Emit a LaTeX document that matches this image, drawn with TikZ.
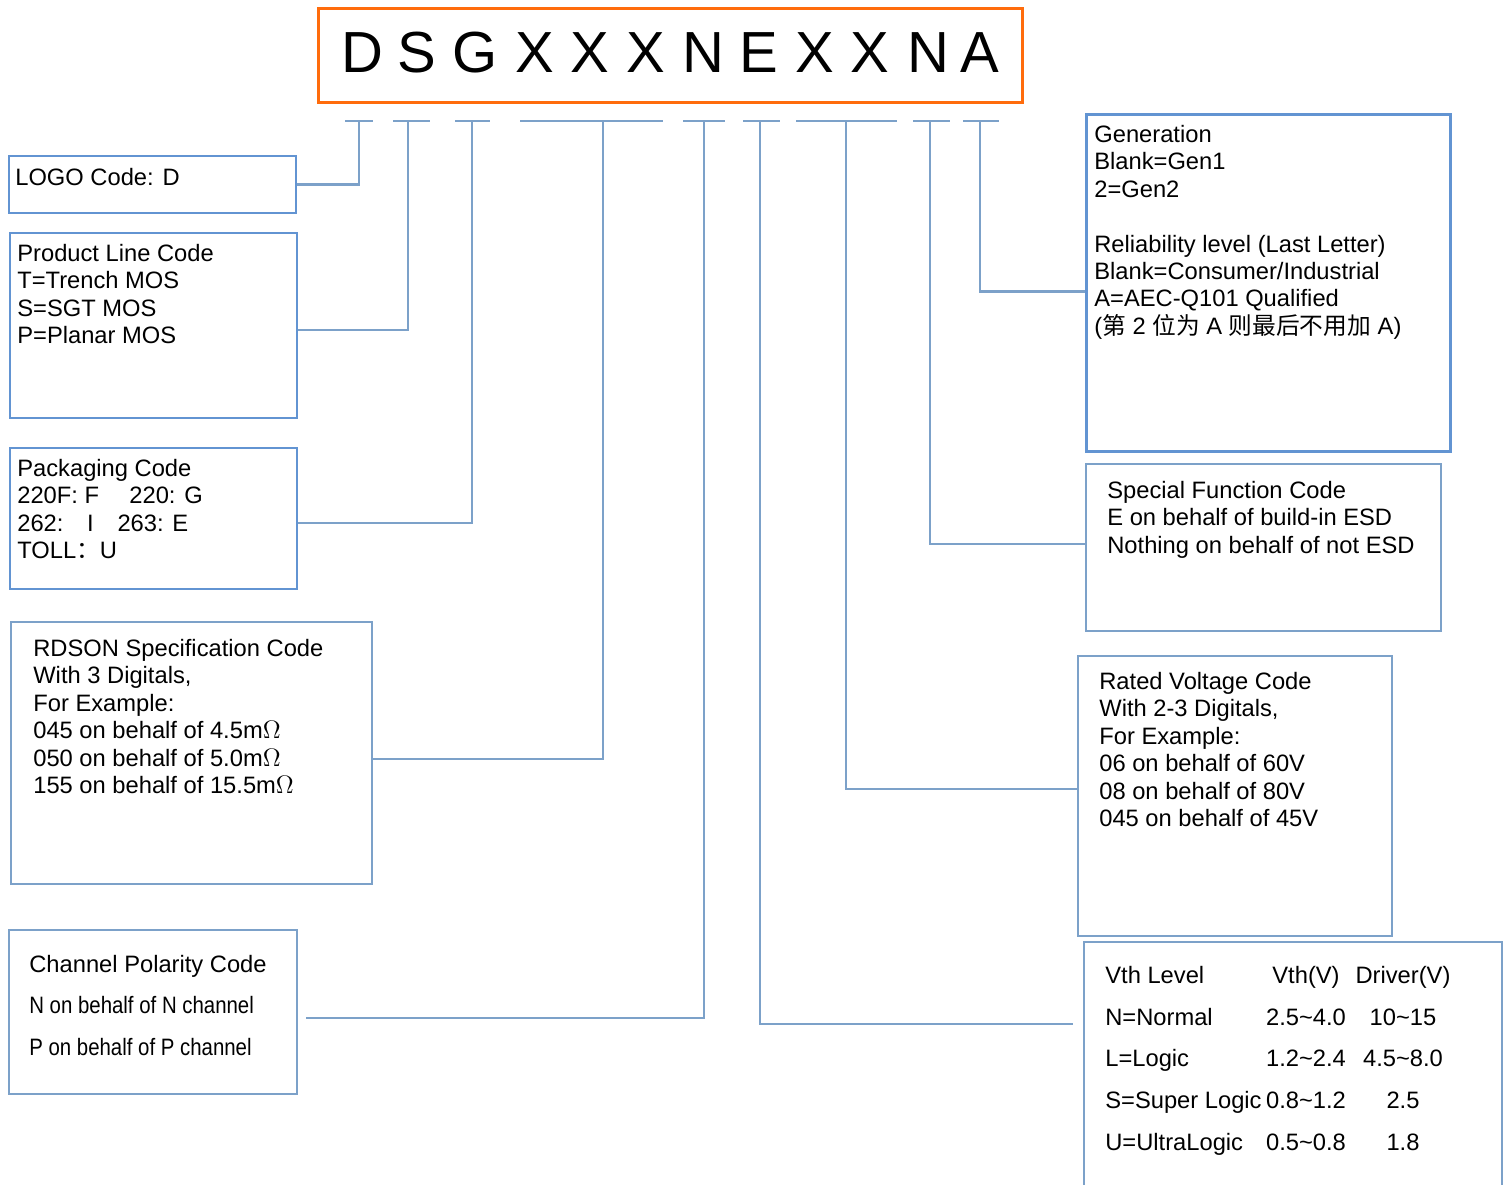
\documentclass[tikz,border=0pt]{standalone}
\usepackage{fontspec}
\setmainfont{Liberation Sans}
\newfontfamily\cjk{Noto Sans CJK SC}
\newcommand\tightline[1]{\scalebox{0.86}[1]{#1}}
\definecolor{codeOrange}{RGB}{255,108,12}
\definecolor{boxBlue}{RGB}{98,148,210}
\definecolor{greyBlue}{RGB}{124,161,201}
\begin{document}
\begin{tikzpicture}
[x=0.02cm, y=-0.02cm,
  titleBox/.style={draw=codeOrange, line width=1.7pt, anchor=north west,
    minimum width=14.08cm, minimum height=1.88cm},%
  codeBox/.style={anchor=north west, inner sep=0pt},%
  boxText/.style={anchor=north west, inner sep=0pt, align=left,
    font=\fontsize{13.5}{15.6}\selectfont},%
  cellText/.style={inner sep=0pt, font=\fontsize{13.5}{15.6}\selectfont},%
  letterNode/.style={inner sep=0pt, font=\fontsize{33}{40}\selectfont},%
  tickLine/.style={-,line width=1.5pt,color=greyBlue},%
  linkLine/.style={-,line width=1.3pt,color=greyBlue}]
\useasboundingbox (0,0) rectangle (1505,1185);
%% part number
\node (title) at (317,7) [titleBox] {};
\foreach \ltr/\x [count=\i] in {D/362, S/417, G/475, X/535, X/590, X/646,
  N/703, E/759, X/815, X/870, N/928, A/980}
{
  \node (l\i) at (\x,53) [letterNode] {\ltr};
}
%% ticks under the letters
\foreach \n/\l/\m/\r in {1/345/359/373, 2/393/408/430, 3/455/472/490,
  4/520/603/663, 5/683/704/725, 6/743/760/780, 7/796/846/897,
  8/913/930/950, 9/963/980/999}
{
  \coordinate (b\n) at (\m,121);
  \draw[tickLine] (\l,121) -- (\r,121);
}
%% code boxes
\foreach \boxname/\x/\y/\w/\h/\col/\lw in {logo/8/155/5.74/1.14/boxBlue/1.2,
  prod/9/232/5.74/3.70/boxBlue/1.2, pack/9/447/5.74/2.82/boxBlue/1.2,
  rdson/10/621/7.22/5.24/greyBlue/1.2, chan/8/929/5.76/3.28/greyBlue/1.2,
  gen/1085/113/7.28/6.74/boxBlue/1.7, spec/1085/463/7.10/3.34/greyBlue/1.2,
  volt/1077/655/6.28/5.60/greyBlue/1.2, vth/1083/941/8.36/6.00/greyBlue/1.2}
{
  \node (\boxname) at (\x,\y) [codeBox, draw=\col, line width=\lw pt,
    minimum width=\w cm, minimum height=\h cm] {};
}
%% box texts
\node (logoText) at (15,168) [boxText] {LOGO Code: D};
\node (prodText) at (17,244) [boxText] {Product Line Code\\T=Trench MOS\\S=SGT MOS\\P=Planar MOS};
\node (packText) at (17,459) [boxText] {Packaging Code\\220F: F\quad\ 220: G\\262:\quad I\quad 263: E\\TOLL{\cjk ：}U};
\node (rdsonText) at (33,639) [boxText] {RDSON Specification Code\\With 3 Digitals,\\For Example:\\045 on behalf of 4.5m$\Omega$\\050 on behalf of 5.0m$\Omega$\\155 on behalf of 15.5m$\Omega$};
\node (chanText) at (29,955) [boxText, font=\fontsize{13.5}{23.5}\selectfont] {Channel Polarity Code\\\tightline{N on behalf of N channel}\\\tightline{P on behalf of P channel}};
\node (genText) at (1094,125) [boxText] {Generation\\Blank=Gen1\\2=Gen2\\[15.6pt]Reliability level (Last Letter)\\Blank=Consumer/Industrial\\A=AEC-Q101 Qualified\\({\cjk 第} 2 {\cjk 位为} A {\cjk 则最后不用加} A)};
\node (specText) at (1107,481) [boxText] {Special Function Code\\E on behalf of build-in ESD\\Nothing on behalf of not ESD};
\node (voltText) at (1099,672) [boxText] {Rated Voltage Code\\With 2-3 Digitals,\\For Example:\\06 on behalf of 60V\\08 on behalf of 80V\\045 on behalf of 45V};
%% Vth table
\foreach \lvl/\vt/\drv [count=\i from 0] in {Vth Level/Vth(V)/Driver(V),
  N=Normal/2.5\textasciitilde 4.0/10\textasciitilde 15,
  L=Logic/1.2\textasciitilde 2.4/4.5\textasciitilde 8.0,
  S=Super Logic/0.8\textasciitilde 1.2/2.5,
  U=UltraLogic/0.5\textasciitilde 0.8/1.8}
{
  \node (lv\i) at (1105,{983.4+41.75*\i}) [cellText, anchor=base west] {\lvl};
  \node (vt\i) at (1306,{983.4+41.75*\i}) [cellText, anchor=base] {\vt};
  \node (dr\i) at (1403,{983.4+41.75*\i}) [cellText, anchor=base] {\drv};
}
%% connectors
\coordinate (vthEnd) at (1073,1024);
\draw[linkLine] (b1) |- (logo.east);
\draw[linkLine] (b2) |- ([yshift=-0.09cm]prod.east);
\draw[linkLine] (b3) |- ([yshift=-0.09cm]pack.east);
\draw[linkLine] (b4) |- ([yshift=-0.12cm]rdson.east);
\draw[linkLine] (b5) |- ([xshift=0.16cm,yshift=-0.12cm]chan.east);
\draw[linkLine] (b6) |- (vthEnd);
\draw[linkLine] (b7) |- ([yshift=0.14cm]volt.west);
\draw[linkLine] (b8) |- ([yshift=0.07cm]spec.west);
\draw[linkLine] (b9) |- ([yshift=-0.17cm]gen.west);
\end{tikzpicture}
\end{document}
